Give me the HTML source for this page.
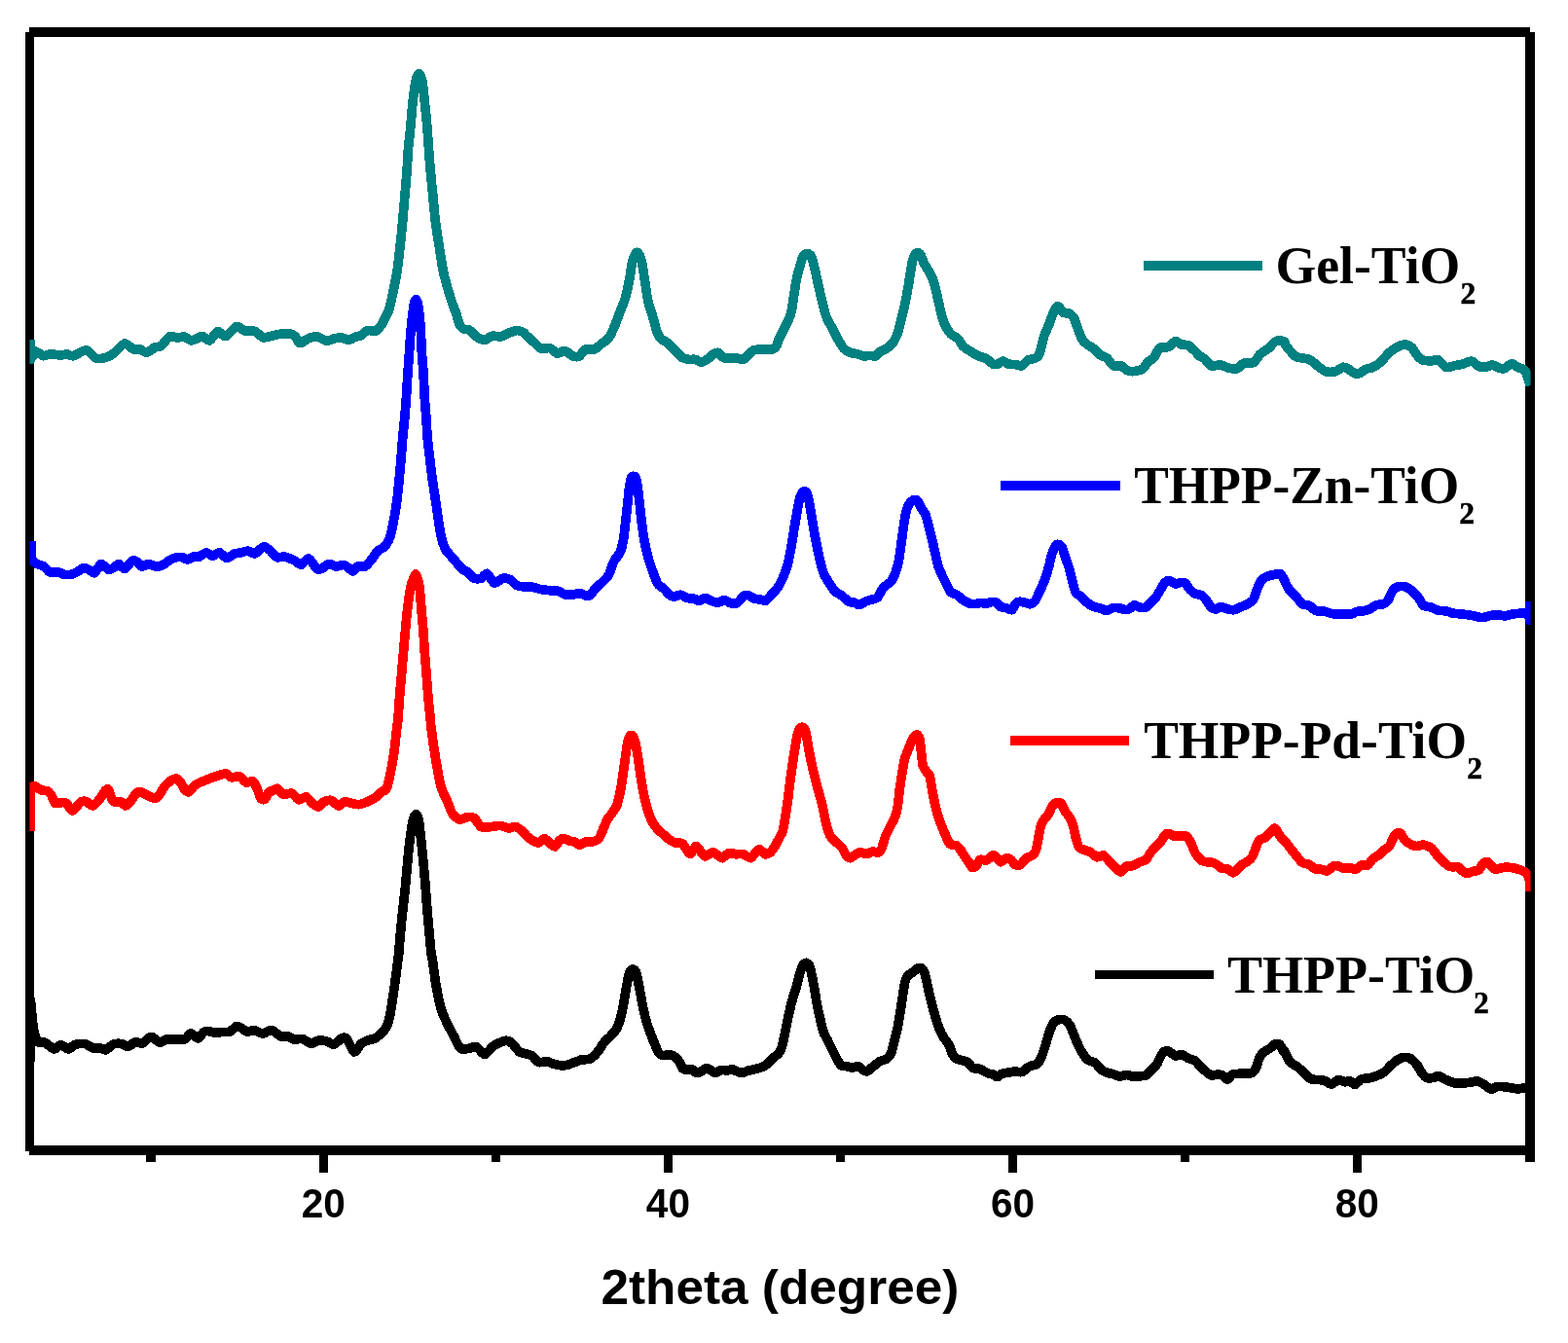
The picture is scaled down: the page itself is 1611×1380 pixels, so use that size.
<!DOCTYPE html>
<html lang="en"><head><meta charset="utf-8"><title>XRD patterns</title>
<style>
html,body{margin:0;padding:0;background:#fff;}
body{width:1611px;height:1380px;overflow:hidden;}
svg{display:block;}
.tick{font-family:"Liberation Sans",Arial,Helvetica,sans-serif;font-weight:bold;font-size:42.5px;text-anchor:middle;fill:#000;}
.title{font-family:"Liberation Sans",Arial,Helvetica,sans-serif;font-weight:bold;font-size:50.4px;text-anchor:middle;fill:#000;}
.leg{font-family:"Liberation Serif","Times New Roman",Times,serif;font-weight:bold;font-size:54px;fill:#000;}
.sub{font-family:"Liberation Serif","Times New Roman",Times,serif;font-weight:bold;font-size:31.6px;fill:#000;stroke:#000;stroke-width:0.5px;}
.curve{fill:none;stroke-width:9.7;stroke-linejoin:round;stroke-linecap:butt;}
</style></head><body>
<svg width="1611" height="1380" viewBox="0 0 1611 1380">
<rect x="0" y="0" width="1611" height="1380" fill="#ffffff"/>
<defs><clipPath id="plot"><rect x="30.4" y="33" width="1542.2" height="1149"/></clipPath></defs>
<g fill="#000" shape-rendering="crispEdges">
<rect x="30" y="28" width="1542" height="10"/>
<rect x="26" y="33" width="9" height="1150"/>
<rect x="30" y="1177" width="1546" height="10"/>
<rect x="1567" y="33" width="9.5" height="1161"/>
<rect x="327.9" y="1186" width="9" height="18.6"/>
<rect x="682" y="1186" width="9" height="18.6"/>
<rect x="1036.2" y="1186" width="9" height="18.6"/>
<rect x="1389.8" y="1186" width="9" height="18.6"/>
<rect x="150" y="1186" width="10" height="8"/>
<rect x="505" y="1186" width="9" height="8"/>
<rect x="859" y="1186" width="9" height="8"/>
<rect x="1213" y="1186" width="9" height="8"/>
</g>
<g clip-path="url(#plot)" shape-rendering="crispEdges">
<path class="curve" stroke="#000000" d="M31.1 1090.6 L31.4 1027.7 L34.2 1057 C34.7 1058.6 37.0 1068.7 38.4 1070.4 C39.8 1072.1 44.4 1070.7 46 1071.3 C47.6 1071.9 50.6 1074.7 51.8 1075.5 C53.0 1076.3 54.7 1078.2 56 1078 C57.3 1077.8 61.0 1073.8 62.7 1073.8 C64.4 1073.8 68.6 1078.0 70.3 1078 C72.0 1078.0 75.0 1074.2 77 1073.5 C79.0 1072.8 84.8 1072.1 87 1072.5 C89.2 1072.9 93.4 1076.2 95.4 1076.8 C97.4 1077.4 102.2 1077.0 103.8 1077.2 C105.4 1077.4 107.3 1079.3 108.8 1078.8 C110.3 1078.3 114.5 1073.7 116.4 1073 C118.3 1072.3 122.9 1072.3 124.7 1072.6 C126.5 1072.9 129.8 1075.7 131.5 1075.5 C133.2 1075.3 137.2 1071.2 139 1070.8 C140.8 1070.4 144.9 1072.6 146.5 1072.1 C148.1 1071.6 151.2 1067.6 152.4 1066.8 C153.6 1066.0 155.2 1065.3 156.6 1065.8 C158.0 1066.3 162.4 1071.0 164.1 1071.3 C165.8 1071.6 168.8 1068.3 170.8 1067.9 C172.8 1067.5 178.6 1067.9 180.9 1067.9 C183.2 1067.9 188.3 1068.6 190.1 1067.9 C191.9 1067.2 194.4 1061.8 196 1061.7 C197.6 1061.6 201.9 1067.3 203.5 1067.1 C205.1 1066.9 208.2 1061.3 209.4 1060.4 C210.6 1059.5 212.2 1059.5 213.6 1059.6 C215.0 1059.7 219.3 1061.1 221.1 1061.2 C222.9 1061.3 226.9 1060.5 228.7 1060.4 C230.5 1060.3 234.5 1060.8 236.2 1060.1 C237.9 1059.4 241.5 1055.0 242.9 1054.5 C244.3 1054.0 246.6 1055.5 247.9 1056.2 C249.2 1056.9 252.2 1059.8 253.8 1060.1 C255.4 1060.4 259.4 1058.5 261.3 1058.7 C263.2 1058.9 267.9 1062.1 269.7 1062.1 C271.5 1062.1 275.2 1059.5 276.4 1059.1 C277.6 1058.7 278.5 1058.1 280 1058.8 C281.5 1059.5 286.7 1064.3 288.6 1065 C290.5 1065.7 294.4 1064.6 296 1065 C297.6 1065.4 300.4 1067.9 302.2 1068.2 C304.0 1068.5 308.7 1067.0 310.8 1067.5 C312.9 1068.0 317.5 1072.2 319.4 1072.4 C321.3 1072.6 324.9 1069.5 326.8 1069.2 C328.7 1068.9 333.5 1069.4 335.4 1069.9 C337.3 1070.4 340.9 1073.5 342.8 1073.1 C344.7 1072.7 349.8 1067.4 351.4 1066.7 C353.0 1066.0 354.9 1065.8 356.4 1067.5 C357.9 1069.2 362.0 1080.4 363.8 1081 C365.6 1081.6 369.4 1073.9 371.2 1072.4 C373.0 1070.9 376.8 1069.4 378.6 1068.7 C380.4 1068.0 384.0 1067.9 385.9 1066.7 C387.8 1065.5 393.1 1060.6 394.6 1058.8 C396.1 1057.0 397.9 1053.8 398.7 1051.3 C399.5 1048.8 400.8 1043.0 401.6 1038.3 C402.4 1033.6 404.6 1018.5 405.5 1012.2 C406.4 1005.9 408.4 990.0 408.9 986.1 C409.4 982.2 409.4 983.2 409.7 980 C410.0 976.8 410.9 964.4 411.4 959.1 C411.9 953.8 413.1 941.5 413.7 935.9 C414.3 930.3 415.7 918.4 416.3 912.8 C416.9 907.2 417.9 895.2 418.4 889.6 C418.9 884.0 420.0 872.0 420.7 866.4 C421.4 860.8 423.4 846.8 424.2 843.2 C425.0 839.6 426.8 836.6 427.5 836.6 C428.2 836.6 429.6 839.6 430.3 843.2 C431.0 846.8 432.4 860.8 433 866.4 C433.6 872.0 434.8 884.0 435.3 889.6 C435.8 895.2 436.9 907.2 437.3 912.8 C437.7 918.4 438.5 930.3 439 935.9 C439.5 941.5 440.6 953.8 441.1 959.1 C441.6 964.4 442.7 976.8 443.1 980 C443.5 983.2 443.7 982.2 444.3 986.1 C444.9 990.0 446.9 1005.9 448 1012.2 C449.1 1018.5 452.3 1033.6 453.7 1038.3 C455.1 1043.0 457.8 1048.2 459.3 1051.3 C460.8 1054.4 464.6 1061.6 466 1064.3 C467.4 1067.0 469.6 1071.8 470.6 1073.5 C471.6 1075.2 473.2 1077.6 474.6 1078.1 C476.0 1078.6 480.2 1077.6 482 1077.3 C483.8 1077.0 487.5 1074.9 489.4 1075.6 C491.3 1076.3 495.9 1083.6 498 1083.5 C500.1 1083.4 504.8 1076.4 506.7 1074.9 C508.6 1073.4 512.5 1071.9 514.1 1071.2 C515.7 1070.5 518.7 1069.1 520.2 1069.2 C521.7 1069.3 524.8 1071.0 526.4 1072.4 C528.0 1073.8 532.2 1079.8 533.8 1081 C535.4 1082.2 538.5 1082.2 540 1082.7 C541.5 1083.2 545.1 1083.8 546.7 1084.9 C548.3 1086.0 551.6 1090.9 553.4 1091.6 C555.2 1092.3 560.0 1090.5 561.8 1090.7 C563.6 1090.9 566.7 1092.7 568.5 1093.2 C570.3 1093.7 575.1 1094.8 576.9 1094.9 C578.7 1095.0 582.0 1094.5 583.6 1094.1 C585.2 1093.7 588.7 1092.2 590.3 1091.6 C591.9 1091.0 595.2 1089.5 597 1089.1 C598.8 1088.7 603.8 1088.7 605.4 1088.2 C607.0 1087.7 609.2 1086.0 610.4 1084.9 C611.6 1083.8 614.2 1080.6 615.4 1079 C616.6 1077.4 619.0 1073.2 620.4 1071.5 C621.8 1069.8 625.7 1066.3 627.2 1064.7 C628.7 1063.1 631.8 1060.1 633 1058 C634.2 1055.9 636.3 1050.3 637.2 1047.2 C638.1 1044.1 639.9 1035.7 640.6 1032.1 C641.3 1028.5 642.5 1020.4 643.1 1017 C643.7 1013.6 645.1 1005.9 645.6 1003.6 C646.1 1001.3 647.0 998.6 647.6 997.7 C648.2 996.8 649.6 995.9 650.3 996 C651.0 996.1 652.5 996.9 653.1 998.2 C653.7 999.5 654.7 1004.0 655.3 1006.9 C655.9 1009.8 657.5 1018.4 658.2 1022 C658.9 1025.6 660.2 1033.5 661 1037.1 C661.8 1040.7 663.9 1049.0 664.9 1052.2 C665.9 1055.4 668.1 1061.3 669.1 1063.9 C670.1 1066.5 672.3 1071.9 673.2 1074 C674.1 1076.1 675.7 1080.3 676.6 1081.5 C677.5 1082.7 679.3 1084.1 680.8 1084.4 C682.3 1084.7 687.6 1083.7 689.2 1084 C690.8 1084.3 693.1 1085.6 694.2 1086.5 C695.3 1087.4 697.5 1090.2 698.4 1091.6 C699.3 1093.0 700.8 1097.4 701.7 1098.3 C702.6 1099.2 704.8 1099.0 705.9 1099.1 C707.0 1099.2 709.8 1098.4 710.9 1098.8 C712.0 1099.2 714.0 1102.2 715.1 1102.5 C716.2 1102.8 718.9 1101.7 720.2 1101.1 C721.5 1100.5 724.7 1097.5 726 1097.4 C727.3 1097.3 730.0 1099.8 731.1 1100.4 C732.2 1101.0 734.1 1102.6 735.3 1102.5 C736.5 1102.4 739.7 1099.7 741.1 1099.4 C742.5 1099.1 745.7 1100.0 747 1099.9 C748.3 1099.8 750.8 1098.7 752 1098.8 C753.2 1098.9 755.8 1100.4 757 1100.8 C758.2 1101.2 760.8 1102.5 762.1 1102.5 C763.4 1102.5 766.4 1100.8 767.9 1100.4 C769.4 1100.0 773.0 1099.2 774.6 1098.8 C776.2 1098.4 779.8 1097.7 781.3 1097.1 C782.8 1096.5 785.8 1095.2 787.2 1094.1 C788.6 1093.0 791.6 1089.6 793.1 1088.2 C794.6 1086.8 798.8 1083.8 800 1082.3 C801.2 1080.8 802.6 1078.2 803.4 1075.6 C804.2 1073.0 805.9 1064.4 806.7 1060.6 C807.5 1056.8 809.2 1047.8 810.1 1043.8 C811.0 1039.8 813.2 1030.6 814.2 1027 C815.2 1023.4 817.5 1016.8 818.4 1013.6 C819.3 1010.4 821.0 1002.8 821.8 1000.2 C822.6 997.6 824.0 993.1 824.8 991.8 C825.6 990.5 827.4 989.2 828.2 989.3 C829.0 989.4 831.1 991.0 831.8 992.7 C832.5 994.4 833.8 1000.7 834.4 1003.6 C835.0 1006.5 836.3 1013.6 836.9 1017 C837.5 1020.4 838.7 1028.5 839.4 1032.1 C840.1 1035.7 841.9 1043.8 842.7 1047.2 C843.5 1050.6 845.2 1058.0 846.1 1060.6 C847.0 1063.2 849.2 1066.7 850.3 1068.9 C851.4 1071.1 854.1 1076.6 855.3 1079 C856.5 1081.4 859.2 1087.2 860.3 1089.1 C861.4 1091.0 863.3 1094.1 864.5 1094.9 C865.7 1095.7 869.1 1095.5 870.4 1095.8 C871.7 1096.1 874.0 1097.1 875.4 1097.1 C876.8 1097.1 880.7 1095.5 882.1 1095.8 C883.5 1096.1 886.1 1099.3 887.2 1099.9 C888.3 1100.5 890.1 1101.3 891.3 1100.8 C892.5 1100.3 895.7 1097.0 897.2 1095.8 C898.7 1094.6 902.3 1091.6 903.9 1090.7 C905.5 1089.8 909.2 1089.2 910.6 1088.2 C912.0 1087.2 914.6 1084.6 915.6 1082.3 C916.6 1080.0 918.2 1072.1 919 1068.9 C919.8 1065.7 921.6 1058.9 922.3 1055.5 C923.0 1052.1 924.3 1044.2 924.9 1040.4 C925.5 1036.6 926.8 1027.5 927.4 1023.7 C928.0 1019.9 929.2 1011.2 929.9 1008.6 C930.6 1006.0 932.3 1003.0 933.2 1001.9 C934.1 1000.8 936.3 1000.2 937.4 999.4 C938.5 998.6 941.4 995.7 942.5 995.2 C943.6 994.7 945.7 994.3 946.6 994.9 C947.5 995.5 949.3 998.4 950 1000.2 C950.7 1002.0 951.9 1007.7 952.5 1010.3 C953.1 1012.9 954.3 1019.0 955 1022 C955.7 1025.0 957.6 1032.4 958.4 1035.4 C959.2 1038.4 960.9 1044.6 961.7 1047.2 C962.5 1049.8 964.2 1055.0 965.1 1057.2 C966.0 1059.4 968.1 1063.6 969.3 1065.6 C970.5 1067.6 974.0 1071.9 975.1 1074 C976.2 1076.1 977.6 1081.5 978.5 1083.2 C979.4 1084.9 981.6 1087.5 982.7 1088.2 C983.8 1088.9 986.3 1089.0 987.7 1089.4 C989.1 1089.8 993.0 1090.6 994.4 1091.6 C995.8 1092.6 998.0 1096.6 999.4 1097.4 C1000.8 1098.2 1004.7 1097.9 1006.1 1098.3 C1007.5 1098.7 1010.0 1100.2 1011.2 1100.8 C1012.4 1101.4 1015.1 1102.9 1016.2 1103.3 C1017.3 1103.7 1019.4 1103.7 1020.4 1104.1 C1021.4 1104.5 1023.5 1106.7 1024.6 1106.6 C1025.7 1106.5 1028.2 1103.8 1029.6 1103.3 C1031.0 1102.8 1034.7 1102.4 1036.3 1102.1 C1037.9 1101.8 1041.4 1101.2 1043 1101.1 C1044.6 1101.0 1048.1 1102.1 1049.7 1101.6 C1051.3 1101.1 1055.2 1097.4 1056.4 1096.6 C1057.6 1095.8 1058.9 1095.3 1060 1094.9 C1061.1 1094.5 1064.7 1094.3 1065.9 1093.2 C1067.1 1092.1 1069.1 1088.0 1070.1 1085.7 C1071.1 1083.4 1073.3 1076.8 1074.2 1074 C1075.1 1071.2 1076.7 1064.8 1077.6 1062.2 C1078.5 1059.6 1080.7 1053.9 1081.8 1052.2 C1082.9 1050.5 1085.4 1048.5 1086.8 1048 C1088.2 1047.5 1092.0 1047.3 1093.5 1048 C1095.0 1048.7 1098.2 1052.0 1099.4 1053.9 C1100.6 1055.8 1102.6 1061.5 1103.6 1063.9 C1104.6 1066.3 1106.7 1071.7 1107.8 1074 C1108.9 1076.3 1111.6 1081.4 1112.8 1083.2 C1114.0 1085.0 1116.3 1088.0 1117.8 1089.1 C1119.3 1090.2 1123.8 1091.2 1125.4 1092.4 C1127.0 1093.6 1129.8 1097.9 1131.2 1099.1 C1132.6 1100.3 1135.6 1101.5 1137.1 1102.1 C1138.6 1102.7 1142.2 1103.3 1143.8 1103.8 C1145.4 1104.3 1148.9 1106.0 1150.5 1106.1 C1152.1 1106.2 1155.6 1104.5 1157.2 1104.5 C1158.8 1104.5 1162.3 1105.9 1163.9 1106.1 C1165.5 1106.3 1169.0 1105.9 1170.6 1105.8 C1172.2 1105.7 1175.9 1105.7 1177.3 1105 C1178.7 1104.3 1181.0 1101.2 1182.3 1099.9 C1183.6 1098.6 1187.0 1095.8 1188.2 1094.1 C1189.4 1092.4 1191.5 1087.3 1192.4 1085.7 C1193.3 1084.1 1194.8 1081.3 1195.8 1080.7 C1196.8 1080.1 1199.4 1079.8 1200.8 1080.3 C1202.2 1080.8 1205.9 1084.5 1207.5 1084.9 C1209.1 1085.3 1212.6 1083.4 1214.2 1083.7 C1215.8 1084.0 1219.3 1086.7 1220.9 1087.4 C1222.5 1088.1 1226.2 1089.0 1227.6 1089.9 C1229.0 1090.8 1231.4 1093.7 1232.6 1094.9 C1233.8 1096.1 1236.3 1098.7 1237.7 1099.9 C1239.1 1101.1 1242.8 1104.5 1244.4 1105 C1246.0 1105.5 1249.7 1104.1 1251.1 1104.1 C1252.5 1104.1 1254.9 1104.4 1256.1 1105 C1257.3 1105.6 1259.9 1109.3 1261.1 1109.2 C1262.3 1109.1 1264.7 1104.8 1266.1 1104.1 C1267.5 1103.4 1271.2 1103.5 1272.8 1103.3 C1274.4 1103.1 1278.0 1102.9 1279.6 1102.8 C1281.2 1102.7 1285.0 1103.1 1286.3 1102.5 C1287.6 1101.9 1289.5 1099.2 1290.4 1097.4 C1291.3 1095.6 1292.9 1089.3 1293.8 1087.4 C1294.7 1085.5 1296.7 1082.7 1298 1081.5 C1299.3 1080.3 1303.3 1078.3 1304.7 1077.3 C1306.1 1076.3 1308.5 1073.6 1309.7 1073.1 C1310.9 1072.6 1313.6 1072.2 1314.7 1073.1 C1315.8 1074.0 1318.3 1079.8 1318.9 1080.7 C1319.5 1081.6 1319.3 1079.5 1320 1080.7 C1320.7 1081.9 1323.4 1088.8 1325 1090.7 C1326.6 1092.6 1331.6 1095.2 1333.4 1096.6 C1335.2 1098.0 1338.5 1101.0 1340.1 1102.5 C1341.7 1104.0 1345.0 1108.0 1346.8 1108.8 C1348.6 1109.6 1353.4 1109.3 1355.2 1109.5 C1357.0 1109.7 1360.4 1110.2 1361.9 1110.8 C1363.4 1111.4 1366.2 1114.4 1367.8 1114.2 C1369.4 1114.0 1373.6 1109.8 1375.3 1109.5 C1377.0 1109.2 1380.6 1111.5 1382 1111.7 C1383.4 1111.9 1385.8 1110.5 1387 1110.8 C1388.2 1111.1 1390.7 1114.7 1392.1 1114.5 C1393.5 1114.3 1397.0 1109.6 1398.8 1108.8 C1400.6 1108.0 1405.4 1108.2 1407.2 1107.8 C1409.0 1107.4 1412.1 1106.5 1413.9 1105.8 C1415.7 1105.1 1420.4 1102.9 1422.2 1101.6 C1424.0 1100.3 1427.3 1096.4 1428.9 1094.9 C1430.5 1093.4 1434.0 1090.1 1435.6 1089.1 C1437.2 1088.1 1440.7 1086.7 1442.3 1086.5 C1443.9 1086.3 1447.5 1086.8 1449.1 1087.7 C1450.7 1088.6 1454.4 1092.3 1455.8 1094.1 C1457.2 1095.9 1459.6 1100.9 1460.8 1102.5 C1462.0 1104.1 1464.4 1106.9 1465.8 1107.5 C1467.2 1108.1 1471.1 1107.7 1472.5 1107.5 C1473.9 1107.3 1476.1 1105.3 1477.5 1105.5 C1478.9 1105.7 1482.2 1107.9 1484.2 1108.8 C1486.2 1109.7 1491.9 1112.3 1494.3 1112.8 C1496.7 1113.3 1502.4 1112.9 1504.4 1112.8 C1506.4 1112.7 1509.5 1112.4 1511.1 1112.2 C1512.7 1112.0 1516.2 1110.6 1517.8 1110.8 C1519.4 1111.0 1522.8 1113.2 1524.5 1114.2 C1526.2 1115.2 1530.4 1118.9 1532 1119.2 C1533.6 1119.5 1536.4 1117.0 1537.9 1116.7 C1539.4 1116.4 1542.8 1116.6 1544.6 1116.7 C1546.4 1116.8 1551.2 1117.6 1553 1117.9 C1554.8 1118.2 1557.9 1118.9 1559.7 1118.9 C1561.5 1118.9 1566.4 1117.7 1568 1117.5 C1569.6 1117.3 1572.5 1117.5 1573.1 1117.5"/>
<path class="curve" stroke="#ff0000" d="M31.4 853.6 L31.7 808.7 C32.2 808.6 34.7 807.4 35.9 807.8 C37.1 808.2 40.3 811.1 41.8 811.7 C43.3 812.3 47.2 812.2 48.5 812.8 C49.8 813.4 51.7 815.5 52.7 817 C53.7 818.5 55.6 824.5 56.9 825.4 C58.2 826.3 62.2 824.6 63.6 824.6 C65.0 824.6 67.3 824.8 68.6 825.8 C69.9 826.8 72.8 833.2 74.5 833 C76.2 832.8 81.1 825.2 82.8 824.1 C84.5 823.0 87.2 823.2 88.7 823.7 C90.2 824.2 93.7 828.3 95.4 827.9 C97.1 827.5 101.5 822.2 103 820.4 C104.5 818.6 107.0 813.9 108 812.8 C109.0 811.7 110.4 810.1 111.3 811.2 C112.2 812.3 114.5 820.5 115.5 822.1 C116.5 823.7 118.7 824.4 119.7 824.6 C120.7 824.8 122.8 823.3 123.9 823.7 C125.0 824.1 127.7 827.9 128.9 827.9 C130.1 827.9 132.8 825.1 134 823.7 C135.2 822.3 137.8 817.4 139 816.2 C140.2 815.0 142.6 813.6 144 813.7 C145.4 813.8 148.9 816.2 150.7 817 C152.5 817.8 157.5 820.5 159.1 820.4 C160.7 820.3 162.9 817.7 164.1 816.2 C165.3 814.7 167.8 809.5 169.2 807.8 C170.6 806.1 174.5 802.9 175.9 802 C177.3 801.1 179.7 799.6 180.9 799.9 C182.1 800.2 184.8 803.0 185.9 804.5 C187.0 806.0 189.1 810.9 190.1 812 C191.1 813.1 193.2 814.2 194.3 813.7 C195.4 813.2 198.1 808.9 199.3 807.8 C200.5 806.7 202.8 805.3 204.4 804.5 C206.0 803.7 210.9 801.8 212.7 801.1 C214.5 800.4 218.0 799.1 219.4 798.6 C220.8 798.1 223.0 797.3 224.5 796.9 C226.0 796.5 230.4 794.7 232 794.9 C233.6 795.1 236.2 798.6 237.9 798.9 C239.6 799.2 244.5 797.2 246.3 797.8 C248.1 798.4 251.4 803.4 253 804 C254.6 804.6 258.4 802.1 259.7 802.8 C261.0 803.5 262.9 807.4 263.9 809.5 C264.9 811.6 267.0 819.0 268 820.4 C269.0 821.8 271.2 822.0 272.2 821.2 C273.2 820.4 275.5 814.7 276.4 813.7 C277.3 812.7 279.0 813.1 280 812.7 C281.0 812.3 283.6 809.8 284.9 810.2 C286.2 810.6 289.3 815.8 291.1 816.4 C292.9 817.0 297.8 814.5 299.7 815.1 C301.6 815.7 305.3 821.4 307.1 821.8 C308.9 822.2 312.9 818.4 314.5 818.8 C316.1 819.2 319.2 823.8 320.7 825 C322.2 826.2 325.3 829.3 326.8 829.2 C328.3 829.1 331.4 824.6 333 823.8 C334.6 823.0 338.6 822.0 340.4 822.5 C342.2 823.0 346.2 828.0 347.8 828.2 C349.4 828.4 352.4 824.2 353.9 823.8 C355.4 823.4 358.3 824.7 360.1 825 C361.9 825.3 366.6 826.8 368.7 826.7 C370.8 826.6 375.2 824.7 377.3 823.8 C379.4 822.9 384.0 820.6 385.9 819.3 C387.8 818.0 392.0 813.7 393.3 812.7 C394.6 811.7 395.8 813.0 396.7 811.3 C397.6 809.6 399.4 803.0 400.4 798.3 C401.4 793.6 404.1 778.5 405 772.2 C405.9 765.9 407.5 750.0 408 746.1 C408.5 742.2 408.6 743.2 408.9 740 C409.2 736.8 409.9 724.4 410.3 719.1 C410.7 713.8 411.8 701.5 412.3 695.9 C412.8 690.3 413.8 678.4 414.3 672.8 C414.8 667.2 415.8 655.2 416.3 649.6 C416.8 644.0 417.9 632.0 418.6 626.4 C419.3 620.8 420.9 607.6 421.9 603.2 C422.9 598.8 426.2 589.7 427.3 589.7 C428.4 589.7 430.2 598.8 430.9 603.2 C431.6 607.6 432.5 620.8 433 626.4 C433.5 632.0 434.6 644.0 435 649.6 C435.4 655.2 436.1 667.2 436.5 672.8 C436.9 678.4 438.0 690.3 438.4 695.9 C438.8 701.5 439.7 713.8 440.2 719.1 C440.7 724.4 442.0 736.8 442.3 740 C442.6 743.2 442.3 742.2 442.8 746.1 C443.3 750.0 445.4 765.9 446.4 772.2 C447.4 778.5 450.0 793.6 450.9 798.3 C451.8 803.0 453.0 808.2 454.1 811.3 C455.2 814.4 458.7 821.3 460 824.3 C461.3 827.3 463.3 834.0 464.8 836.1 C466.3 838.2 470.4 841.8 472.2 842.2 C474.0 842.6 477.8 840.0 479.6 839.8 C481.4 839.6 485.2 839.3 487 840.5 C488.8 841.7 492.2 848.5 494.3 849.6 C496.4 850.7 501.8 849.7 504.2 849.6 C506.6 849.5 511.9 848.2 514.1 848.4 C516.3 848.6 520.8 850.8 522.7 850.9 C524.6 851.0 528.2 849.0 530.1 849.6 C532.0 850.2 537.5 854.8 538.7 855.8 C539.9 856.8 539.0 857.3 540 858.2 C541.0 859.1 545.1 862.3 546.7 863.2 C548.3 864.1 551.9 866.3 553.4 866.1 C554.9 865.9 557.9 861.5 559.3 861.6 C560.7 861.7 563.8 865.6 565.1 866.6 C566.4 867.6 569.0 870.3 570.2 869.9 C571.4 869.5 574.1 864.2 575.2 863.2 C576.3 862.2 578.2 861.5 579.4 861.6 C580.6 861.7 584.0 863.7 585.3 864.1 C586.6 864.5 589.1 864.4 590.3 864.9 C591.5 865.4 593.9 868.3 595.3 868.3 C596.7 868.3 600.4 865.3 602 864.9 C603.6 864.5 607.1 865.3 608.7 864.9 C610.3 864.5 614.1 863.1 615.4 861.6 C616.7 860.1 618.6 854.6 619.6 852.3 C620.6 850.0 622.7 844.3 623.8 842.3 C624.9 840.3 627.6 837.4 628.8 835.6 C630.0 833.8 632.9 829.8 633.9 827.2 C634.9 824.6 636.5 817.2 637.2 813.8 C637.9 810.4 639.1 802.7 639.7 798.7 C640.3 794.7 641.6 784.5 642.2 780.3 C642.8 776.1 644.1 766.3 644.7 763.5 C645.3 760.7 646.4 757.8 646.9 756.8 C647.4 755.8 648.4 755.4 648.9 755.5 C649.4 755.6 650.5 756.3 651.1 757.7 C651.7 759.1 653.0 764.0 653.6 766.9 C654.2 769.8 655.4 778.0 656 782 C656.6 786.0 658.0 796.0 658.7 800.4 C659.4 804.8 661.2 815.0 662 818.8 C662.8 822.6 664.5 829.2 665.4 832.2 C666.3 835.2 668.7 841.6 669.9 844 C671.1 846.4 674.3 850.6 675.8 852.3 C677.3 854.0 681.0 856.9 682.5 858.2 C684.0 859.5 686.9 862.3 688.3 863.2 C689.7 864.1 692.7 865.7 694.2 866.1 C695.7 866.5 699.6 865.8 700.9 866.6 C702.2 867.4 704.1 871.2 705.1 872.5 C706.1 873.8 708.1 877.9 709.3 877.5 C710.5 877.1 713.9 869.8 715.1 869.4 C716.3 869.0 718.2 872.8 719.3 874.1 C720.4 875.4 722.9 879.8 724.4 880 C725.9 880.2 730.4 876.0 731.9 875.8 C733.4 875.6 735.7 877.6 736.9 878.3 C738.1 879.0 740.6 881.9 742 881.7 C743.4 881.5 747.0 877.1 748.7 876.6 C750.4 876.1 754.5 877.7 756.2 877.8 C757.9 877.9 761.1 877.0 762.9 877.5 C764.7 878.0 769.7 881.9 771.3 881.7 C772.9 881.5 775.2 876.9 776.3 875.8 C777.4 874.7 779.3 872.6 780.5 872.8 C781.7 873.0 785.1 877.4 786.4 877.8 C787.7 878.2 790.2 876.8 791.4 875.8 C792.6 874.8 795.4 870.7 796.4 869.1 C797.4 867.5 799.1 864.2 800 862.4 C800.9 860.6 803.4 856.6 804.2 854 C805.0 851.4 806.1 844.2 806.7 840.6 C807.3 837.0 808.6 828.3 809.2 823.9 C809.8 819.5 811.1 808.3 811.7 803.7 C812.3 799.1 813.6 789.5 814.2 785.3 C814.8 781.1 816.2 772.1 816.8 768.5 C817.4 764.9 818.7 757.5 819.3 755.1 C819.9 752.7 821.2 749.3 821.8 748.4 C822.4 747.5 823.7 747.2 824.3 747.3 C824.9 747.4 826.3 748.2 826.8 749.3 C827.3 750.4 828.3 754.3 828.8 756.8 C829.3 759.3 830.3 766.6 831 770.2 C831.7 773.8 833.6 783.4 834.4 787 C835.2 790.6 836.9 797.2 837.7 800.4 C838.5 803.6 840.3 810.8 841.1 813.8 C841.9 816.8 843.7 822.7 844.4 825.5 C845.1 828.3 846.3 834.5 846.9 837.3 C847.5 840.1 848.6 846.3 849.4 849 C850.2 851.7 852.5 858.0 853.6 859.9 C854.7 861.8 857.3 863.5 858.7 864.9 C860.1 866.3 864.1 869.9 865.4 871.6 C866.7 873.3 868.6 878.0 869.6 879.2 C870.6 880.4 872.6 881.8 873.7 881.7 C874.8 881.6 877.6 879.0 878.8 878.3 C880.0 877.6 882.4 875.9 883.8 875.8 C885.2 875.7 889.0 877.6 890.5 877.5 C892.0 877.4 895.0 875.2 896.4 875 C897.8 874.8 901.1 876.4 902.2 876.1 C903.3 875.8 904.7 874.5 905.6 872.5 C906.5 870.5 908.7 861.9 909.8 859.1 C910.9 856.3 913.6 851.4 914.8 849 C916.0 846.6 918.9 841.3 919.8 838.9 C920.7 836.5 921.7 832.3 922.3 828.9 C922.9 825.5 923.8 814.6 924.4 810.4 C925.0 806.2 926.4 797.3 927 793.7 C927.6 790.1 928.8 782.9 929.4 780.3 C930.0 777.7 931.6 773.9 932.4 771.9 C933.2 769.9 935.0 765.3 935.8 763.5 C936.6 761.7 938.3 757.8 939.1 756.8 C939.9 755.8 941.8 754.7 942.5 755.1 C943.2 755.5 944.5 758.0 945 760.2 C945.5 762.4 946.2 770.4 946.6 773.6 C947.0 776.8 947.7 784.7 948.3 787 C948.9 789.3 950.9 791.6 951.7 792.8 C952.5 794.0 954.3 794.9 955 797 C955.7 799.1 956.9 807.2 957.5 810.4 C958.1 813.6 959.4 820.7 960.1 823.9 C960.8 827.1 962.5 834.3 963.4 837.3 C964.3 840.3 966.6 846.4 967.6 849 C968.6 851.6 970.8 856.9 971.8 859.1 C972.8 861.3 974.7 866.2 976 867.4 C977.3 868.6 981.4 868.1 982.7 868.8 C984.0 869.5 985.9 872.0 986.9 873.3 C987.9 874.6 990.1 878.5 991.1 880 C992.1 881.5 994.4 884.6 995.3 885.9 C996.2 887.2 997.7 890.7 998.6 891.2 C999.5 891.7 1001.8 891.0 1002.8 890.1 C1003.8 889.2 1005.7 884.1 1007 883.4 C1008.3 882.7 1012.2 884.4 1013.7 883.9 C1015.2 883.4 1018.5 879.7 1019.6 879.2 C1020.7 878.7 1021.9 879.2 1022.9 880 C1023.9 880.8 1026.7 885.6 1027.9 885.9 C1029.1 886.2 1031.8 882.6 1033 882.2 C1034.2 881.8 1036.8 882.1 1038 882.8 C1039.2 883.5 1041.8 887.7 1043 888.4 C1044.2 889.1 1046.6 889.7 1048 888.9 C1049.4 888.1 1053.3 882.9 1054.7 881.7 C1056.1 880.5 1058.9 880.1 1060 879.2 C1061.1 878.3 1063.4 876.1 1064.2 874.1 C1065.0 872.1 1066.1 865.4 1066.7 862.4 C1067.3 859.4 1068.5 851.4 1069.2 849 C1069.9 846.6 1071.7 843.7 1072.6 842.3 C1073.5 840.9 1075.8 838.9 1076.8 837.3 C1077.8 835.7 1080.0 830.4 1080.9 828.9 C1081.8 827.4 1083.2 825.6 1084.3 825.2 C1085.4 824.8 1089.0 824.5 1090.2 825.5 C1091.4 826.5 1093.3 832.1 1094.4 833.9 C1095.5 835.7 1098.4 838.8 1099.4 840.6 C1100.4 842.4 1102.0 846.6 1102.7 849 C1103.4 851.4 1104.6 858.1 1105.3 860.7 C1106.0 863.3 1107.6 869.3 1108.6 870.8 C1109.6 872.3 1112.3 872.8 1113.6 873.3 C1114.9 873.8 1117.9 874.1 1119.5 875 C1121.1 875.9 1125.3 880.3 1127 880.8 C1128.7 881.3 1132.2 878.3 1133.7 878.8 C1135.2 879.3 1138.2 883.5 1139.6 885 C1141.0 886.5 1144.1 889.6 1145.5 890.9 C1146.9 892.2 1149.9 896.0 1151.3 895.9 C1152.7 895.8 1155.7 890.9 1157.2 890.1 C1158.7 889.3 1162.3 890.1 1163.9 889.6 C1165.5 889.1 1169.0 886.6 1170.6 885.9 C1172.2 885.2 1175.9 884.6 1177.3 883.4 C1178.7 882.2 1181.1 877.4 1182.3 875.8 C1183.5 874.2 1186.1 871.3 1187.4 869.9 C1188.7 868.5 1192.1 865.5 1193.2 864.1 C1194.3 862.7 1195.7 859.1 1196.6 858.2 C1197.5 857.3 1199.7 856.4 1200.8 856.5 C1201.9 856.6 1204.4 858.8 1205.8 859.1 C1207.2 859.4 1210.9 859.1 1212.5 859.1 C1214.1 859.1 1217.9 858.3 1219.2 859.1 C1220.5 859.9 1222.4 863.8 1223.4 865.8 C1224.4 867.8 1226.5 873.8 1227.6 875.8 C1228.7 877.8 1231.4 881.3 1232.6 882.5 C1233.8 883.7 1236.3 885.1 1237.7 885.5 C1239.1 885.9 1242.9 885.6 1244.4 885.9 C1245.9 886.2 1248.9 887.6 1250.2 888.4 C1251.5 889.2 1254.0 891.7 1255.3 892.2 C1256.6 892.7 1259.7 892.3 1261.1 892.9 C1262.5 893.5 1265.7 896.8 1267 896.8 C1268.3 896.8 1270.9 893.6 1272 892.6 C1273.1 891.6 1275.1 889.3 1276.2 888.4 C1277.3 887.5 1280.0 886.4 1281.2 885.5 C1282.4 884.6 1285.2 882.6 1286.3 880.8 C1287.4 879.0 1289.5 872.9 1290.4 870.8 C1291.3 868.7 1292.7 864.4 1293.8 863.2 C1294.9 862.0 1298.3 861.7 1299.7 860.7 C1301.1 859.7 1304.3 856.1 1305.5 854.9 C1306.7 853.7 1308.8 850.9 1309.7 851 C1310.6 851.1 1312.2 854.3 1313.1 855.7 C1314.0 857.1 1316.5 861.4 1317.3 862.4 C1318.1 863.4 1319.1 863.0 1320 864 C1320.9 865.0 1323.6 868.9 1325 870.7 C1326.4 872.5 1330.1 877.2 1331.7 879.1 C1333.3 881.0 1336.8 885.5 1338.4 886.6 C1340.0 887.7 1343.6 887.6 1345.1 888.3 C1346.6 889.0 1349.4 892.2 1351 892.8 C1352.6 893.4 1357.0 893.1 1358.5 893.4 C1360.0 893.7 1362.2 895.4 1363.6 895 C1365.0 894.6 1368.9 890.6 1370.3 890 C1371.7 889.4 1374.1 889.7 1375.3 890 C1376.5 890.3 1378.9 892.0 1380.3 892.2 C1381.7 892.4 1385.5 891.6 1387 891.7 C1388.5 891.8 1391.5 893.7 1392.9 893.4 C1394.3 893.1 1397.3 889.4 1398.8 888.8 C1400.3 888.2 1404.1 889.6 1405.5 888.8 C1406.9 888.0 1409.1 883.8 1410.5 882.5 C1411.9 881.2 1415.8 879.4 1417.2 878.3 C1418.6 877.2 1421.0 874.2 1422.2 873.2 C1423.4 872.2 1426.2 871.4 1427.3 869.9 C1428.4 868.4 1430.6 862.3 1431.5 860.7 C1432.4 859.1 1433.9 857.0 1434.8 856.5 C1435.7 856.0 1437.9 855.6 1439 856.5 C1440.1 857.4 1442.6 862.6 1444 864 C1445.4 865.4 1449.3 867.6 1450.7 868.2 C1452.1 868.8 1454.4 869.4 1455.8 869.4 C1457.2 869.4 1460.7 867.9 1462.5 868.2 C1464.3 868.5 1469.1 870.3 1470.8 871.6 C1472.5 872.9 1475.3 877.5 1476.7 879.1 C1478.1 880.7 1481.1 883.6 1482.6 885 C1484.1 886.4 1487.5 889.8 1489.3 890.5 C1491.1 891.2 1496.1 890.3 1497.7 890.8 C1499.3 891.3 1501.5 894.2 1502.7 895 C1503.9 895.8 1506.5 897.4 1507.7 897.5 C1508.9 897.6 1511.3 895.9 1512.7 895.5 C1514.1 895.1 1518.1 895.2 1519.4 894.2 C1520.7 893.2 1522.6 888.5 1523.6 887.5 C1524.6 886.5 1526.8 885.3 1527.8 885.5 C1528.8 885.7 1531.0 888.3 1532 889.2 C1533.0 890.1 1534.9 893.1 1536.2 893.4 C1537.5 893.7 1541.3 892.0 1542.9 891.7 C1544.5 891.4 1548.0 891.1 1549.6 891.2 C1551.2 891.3 1554.7 891.8 1556.3 892.2 C1557.9 892.6 1561.5 893.6 1563 894.2 C1564.5 894.8 1567.3 895.9 1568.4 897.2 C1569.5 898.5 1571.5 904.2 1571.9 905.1 L1571.9 916"/>
<path class="curve" stroke="#0000ff" d="M31.7 556.1 L31.7 575.4 C32.5 575.9 36.8 578.8 38.4 579.6 C40.0 580.4 43.6 581.1 45.1 582.1 C46.6 583.1 49.2 587.2 51 587.9 C52.8 588.6 58.5 587.6 60.2 587.9 C61.9 588.2 63.7 589.8 65.3 590.1 C66.9 590.4 71.8 590.5 73.6 590.1 C75.4 589.7 78.8 587.9 80.3 587.1 C81.8 586.3 84.8 583.6 86.2 583.4 C87.6 583.2 90.8 585.2 92.1 585.8 C93.4 586.4 95.7 589.5 97.1 588.8 C98.5 588.1 102.1 580.0 103.8 579.6 C105.5 579.2 109.8 584.6 111.3 585.1 C112.8 585.6 115.1 584.4 116.4 583.7 C117.7 583.0 120.8 579.5 122.2 579.6 C123.6 579.7 126.5 585.0 128.1 584.6 C129.7 584.2 134.1 577.4 135.6 576.5 C137.1 575.6 139.5 576.3 140.7 577 C141.9 577.7 144.3 581.8 145.7 582.1 C147.1 582.4 150.6 579.6 152.4 579.6 C154.2 579.6 159.0 582.0 160.8 582.1 C162.6 582.2 165.9 581.2 167.5 580.4 C169.1 579.6 172.6 576.6 174.2 575.7 C175.8 574.8 179.3 573.1 180.9 572.8 C182.5 572.5 186.2 572.5 187.6 572.8 C189.0 573.1 191.2 575.1 192.6 575 C194.0 574.9 197.9 572.0 199.3 571.7 C200.7 571.4 202.9 572.8 204.4 572.3 C205.9 571.8 210.2 567.9 211.9 567.8 C213.6 567.7 217.0 571.2 218.6 571.2 C220.2 571.2 223.6 567.5 225.3 567.8 C227.0 568.1 230.9 573.3 232.8 573.4 C234.7 573.5 239.4 569.7 241.2 569 C243.0 568.3 246.3 568.1 247.9 567.8 C249.5 567.5 253.0 566.0 254.6 566.1 C256.2 566.2 259.9 569.1 261.3 569 C262.7 568.9 265.2 566.2 266.4 565.3 C267.6 564.4 270.0 561.5 271.4 561.6 C272.8 561.7 277.1 565.3 278.1 566.1 C279.1 566.9 279.2 567.6 280 568.4 C280.8 569.2 283.4 572.4 284.9 572.8 C286.4 573.2 290.2 571.7 292.3 572.1 C294.4 572.5 300.1 574.8 302.2 575.8 C304.3 576.8 307.8 580.4 309.6 580.2 C311.4 580.0 315.1 573.3 317 573.8 C318.9 574.3 324.0 583.1 325.6 584.4 C327.2 585.7 329.0 585.0 330.5 584.4 C332.0 583.8 336.1 579.8 337.9 579.5 C339.7 579.2 343.4 581.9 345.3 582 C347.2 582.1 351.8 580.1 353.9 580.7 C356.0 581.3 360.9 586.7 362.5 586.9 C364.1 587.1 366.0 582.6 367.5 582 C369.0 581.4 373.3 582.7 374.9 582 C376.5 581.3 379.4 577.7 381 575.8 C382.6 573.9 386.8 567.5 388.4 565.9 C390.0 564.3 393.3 563.5 394.6 562.2 C395.9 560.9 398.5 557.0 399.5 554.9 C400.5 552.8 401.8 548.7 402.7 544.3 C403.6 539.9 406.4 524.6 407.3 518.3 C408.2 512.0 409.6 498.5 410.2 492.2 C410.8 485.9 412.1 471.2 412.5 466.1 C412.9 461.0 413.3 454.4 413.7 450 C414.1 445.6 415.3 434.4 415.8 429.1 C416.3 423.8 417.2 411.5 417.6 405.9 C418.0 400.3 418.6 388.4 419 382.8 C419.4 377.2 420.3 365.2 420.7 359.6 C421.1 354.0 421.8 342.0 422.4 336.4 C423.0 330.8 424.7 316.7 425.3 313.2 C425.9 309.7 426.8 307.5 427.3 307.5 C427.8 307.5 428.9 309.7 429.5 313.2 C430.1 316.7 431.7 330.8 432.1 336.4 C432.5 342.0 432.9 354.0 433.2 359.6 C433.5 365.2 434.7 377.2 435 382.8 C435.3 388.4 435.8 400.3 436.1 405.9 C436.4 411.5 437.5 423.8 437.9 429.1 C438.3 434.4 438.8 445.6 439.2 450 C439.6 454.4 440.4 461.0 441 466.1 C441.6 471.2 443.3 485.9 444.2 492.2 C445.1 498.5 447.2 512.0 448.1 518.3 C449.0 524.6 451.2 539.6 452 544.3 C452.8 549.0 454.0 554.8 454.8 557.4 C455.6 560.0 457.1 563.7 458.6 565.9 C460.1 568.1 465.3 573.6 467.2 575.8 C469.1 578.0 473.0 582.9 474.6 584.4 C476.2 585.9 479.3 586.9 480.8 588.1 C482.3 589.3 485.4 593.6 487 594.3 C488.6 595.0 492.7 594.9 494.3 594.3 C495.9 593.7 498.9 588.7 500.5 589.3 C502.1 589.9 506.0 598.6 507.9 599.2 C509.8 599.8 514.6 594.7 516.5 594.3 C518.4 593.9 522.1 594.6 523.9 595.5 C525.7 596.4 529.5 600.8 531.3 601.7 C533.1 602.6 537.7 602.7 538.7 602.9 C539.7 603.1 539.0 603.2 540 603.2 C541.0 603.2 544.9 602.9 546.7 603.2 C548.5 603.5 553.1 605.0 555.1 605.4 C557.1 605.8 561.3 606.4 563.5 606.6 C565.7 606.8 571.4 606.9 573.5 607.4 C575.6 607.9 579.1 610.7 581.1 611.1 C583.1 611.5 588.6 611.0 590.3 610.8 C592.0 610.6 593.9 609.2 595.3 609.4 C596.7 609.6 600.7 611.8 602 612.1 C603.3 612.4 605.0 612.6 606.2 611.6 C607.4 610.6 610.6 605.7 612.1 604.1 C613.6 602.5 617.2 599.8 618.8 598.2 C620.4 596.6 624.1 593.2 625.5 590.7 C626.9 588.2 629.1 580.1 630.5 577.3 C631.9 574.5 636.0 570.0 637.2 567.2 C638.4 564.4 640.0 557.4 640.6 553.8 C641.2 550.2 642.1 541.2 642.6 537 C643.1 532.8 644.2 522.8 644.7 518.6 C645.2 514.4 645.9 505.1 646.4 501.8 C646.9 498.5 648.1 492.4 648.6 490.9 C649.1 489.4 650.1 489.3 650.6 489.3 C651.1 489.3 652.5 489.4 653.1 490.9 C653.7 492.4 654.8 498.5 655.3 501.8 C655.8 505.1 656.8 514.4 657.3 518.6 C657.8 522.8 658.7 532.6 659.3 537 C659.9 541.4 661.2 551.3 662 555.5 C662.8 559.7 664.7 568.4 665.7 572.2 C666.7 576.0 669.5 584.0 670.7 587.3 C671.9 590.6 674.4 597.7 675.8 599.9 C677.2 602.1 681.1 604.1 682.5 605.4 C683.9 606.7 686.3 609.9 687.5 610.8 C688.7 611.7 691.1 613.3 692.5 613.3 C693.9 613.3 697.6 611.0 699.2 611.1 C700.8 611.2 704.3 614.0 705.9 614.5 C707.5 615.0 711.1 614.6 712.6 615 C714.1 615.4 717.1 617.6 718.5 617.5 C719.9 617.4 722.9 614.5 724.4 614.5 C725.9 614.5 729.5 616.9 731.1 617.5 C732.7 618.1 736.2 619.3 737.8 619.2 C739.4 619.1 742.9 616.5 744.5 616.6 C746.1 616.7 749.6 619.7 751.2 620 C752.8 620.3 756.4 620.1 757.9 619.2 C759.4 618.3 762.4 613.4 763.7 612.5 C765.0 611.6 767.5 611.3 768.8 611.6 C770.1 611.9 773.1 614.5 774.6 615 C776.1 615.5 779.9 615.8 781.3 616.1 C782.7 616.4 785.2 617.6 786.4 617.2 C787.6 616.8 790.0 614.0 791.4 612.5 C792.8 611.0 797.1 606.1 798.1 604.9 C799.1 603.7 799.2 603.9 800 602.4 C800.8 600.9 803.9 594.9 805 592.3 C806.1 589.7 808.3 584.0 809.2 580.6 C810.1 577.2 811.8 568.3 812.6 563.9 C813.4 559.5 815.1 548.5 815.9 543.7 C816.7 538.9 818.6 527.4 819.3 523.6 C820.0 519.8 821.2 514.0 821.8 511.9 C822.4 509.8 823.7 506.8 824.3 506 C824.9 505.2 826.0 504.8 826.5 504.9 C827.0 505.0 828.3 505.5 828.8 506.5 C829.3 507.5 830.4 510.9 831 513.6 C831.6 516.3 832.8 524.5 833.5 528.7 C834.2 532.9 836.1 544.4 836.9 548.8 C837.7 553.2 839.4 561.7 840.2 565.5 C841.0 569.3 842.8 577.6 843.6 580.6 C844.4 583.6 845.9 588.5 846.9 590.7 C847.9 592.9 850.7 597.1 852 599.1 C853.3 601.1 856.2 605.8 857.8 607.4 C859.4 609.0 863.7 611.2 865.4 612.5 C867.1 613.8 870.6 617.5 872.1 618.3 C873.6 619.1 876.6 618.8 877.9 619.2 C879.2 619.6 881.7 621.8 883 621.7 C884.3 621.6 887.3 619.0 888.8 618.3 C890.3 617.6 894.0 616.6 895.5 616.1 C897.0 615.6 900.0 615.5 901.4 614.1 C902.8 612.7 905.6 606.1 907.3 604.1 C909.0 602.1 914.1 599.2 915.6 597.4 C917.1 595.6 918.9 591.4 919.8 589 C920.7 586.6 922.5 580.7 923.2 577.3 C923.9 573.9 925.1 564.7 925.7 560.5 C926.3 556.3 927.6 546.1 928.2 542.1 C928.8 538.1 930.0 529.9 930.7 527 C931.4 524.1 933.2 519.4 934.1 517.8 C935.0 516.2 937.3 514.3 938.3 513.9 C939.3 513.5 941.5 513.4 942.5 514.4 C943.5 515.4 945.6 520.3 946.6 522 C947.6 523.7 949.9 526.5 950.8 528.7 C951.7 530.9 953.4 537.4 954.2 540.4 C955.0 543.4 956.7 550.4 957.5 553.8 C958.3 557.2 960.1 565.5 960.9 568.9 C961.7 572.3 963.3 579.5 964.2 582.3 C965.1 585.1 967.4 590.1 968.4 592.3 C969.4 594.5 971.6 598.8 972.6 600.7 C973.6 602.6 975.5 607.0 976.8 608.3 C978.1 609.6 982.0 610.6 983.5 611.6 C985.0 612.6 987.9 615.6 989.4 616.6 C990.9 617.6 994.5 619.5 996.1 620 C997.7 620.5 1001.4 620.6 1002.8 620.5 C1004.2 620.4 1006.6 619.5 1007.8 619.5 C1009.0 619.5 1011.6 620.4 1012.8 620.3 C1014.0 620.2 1016.7 619.0 1017.9 618.8 C1019.1 618.6 1021.7 618.2 1022.9 618.8 C1024.1 619.4 1026.5 622.7 1027.9 623.4 C1029.3 624.1 1033.2 624.6 1034.6 625 C1036.0 625.4 1038.6 627.3 1039.7 626.7 C1040.8 626.1 1042.9 621.0 1043.9 620 C1044.9 619.0 1046.9 618.4 1048 618.3 C1049.1 618.2 1051.9 618.9 1053.1 619.2 C1054.3 619.5 1057.3 620.7 1058.1 620.8 C1058.9 620.9 1059.4 620.4 1060 620 C1060.6 619.6 1062.4 619.0 1063.4 617.5 C1064.4 616.0 1067.2 610.0 1068.4 607.4 C1069.6 604.8 1072.3 598.7 1073.4 595.7 C1074.5 592.7 1076.7 585.5 1077.6 582.3 C1078.5 579.1 1080.1 571.4 1080.9 568.9 C1081.7 566.4 1083.6 562.5 1084.3 561.3 C1085.0 560.1 1086.0 559.2 1086.8 559.3 C1087.6 559.4 1090.1 560.7 1091 562.2 C1091.9 563.7 1093.5 569.6 1094.4 572.2 C1095.3 574.8 1097.6 581.0 1098.5 584 C1099.4 587.0 1101.1 594.4 1101.9 597.4 C1102.7 600.4 1104.3 607.3 1105.3 609.1 C1106.3 610.9 1108.9 611.3 1110.3 612.5 C1111.7 613.7 1115.4 617.9 1117 619.2 C1118.6 620.5 1122.1 622.7 1123.7 623.4 C1125.3 624.1 1128.8 624.5 1130.4 625 C1132.0 625.5 1135.5 627.6 1137.1 627.5 C1138.7 627.4 1142.2 624.8 1143.8 624.5 C1145.4 624.2 1148.9 624.7 1150.5 625 C1152.1 625.3 1155.9 626.7 1157.2 626.7 C1158.5 626.7 1160.4 625.6 1161.4 625 C1162.4 624.4 1164.5 621.8 1165.6 621.7 C1166.7 621.6 1169.2 623.6 1170.6 623.9 C1172.0 624.2 1175.9 624.8 1177.3 624.2 C1178.7 623.6 1181.1 620.4 1182.3 619.2 C1183.5 618.0 1186.2 615.7 1187.4 614.1 C1188.6 612.5 1191.3 607.6 1192.4 605.8 C1193.5 604.0 1195.6 600.2 1196.6 599.1 C1197.6 598.0 1199.5 596.4 1200.8 596.5 C1202.1 596.6 1206.1 599.6 1207.5 599.9 C1208.9 600.2 1211.3 598.8 1212.5 598.7 C1213.7 598.6 1216.3 598.2 1217.5 599.1 C1218.7 600.0 1221.4 604.5 1222.6 605.8 C1223.8 607.1 1226.2 609.2 1227.6 609.9 C1229.0 610.6 1232.9 610.8 1234.3 611.6 C1235.7 612.4 1238.1 615.1 1239.3 616.6 C1240.5 618.1 1243.2 623.1 1244.4 624.2 C1245.6 625.3 1248.2 626.0 1249.4 625.9 C1250.6 625.8 1253.0 623.4 1254.4 623.4 C1255.8 623.4 1259.5 625.5 1261.1 625.9 C1262.7 626.3 1266.2 626.9 1267.8 626.7 C1269.4 626.5 1272.7 624.7 1274.5 623.9 C1276.3 623.1 1281.3 621.0 1282.9 620 C1284.5 619.0 1286.8 617.7 1287.9 615.8 C1289.0 613.9 1291.1 606.5 1292.1 604.1 C1293.1 601.7 1295.0 597.2 1296.3 595.7 C1297.6 594.2 1301.4 592.6 1303 592 C1304.6 591.4 1308.2 590.6 1309.7 590.3 C1311.2 590.0 1314.4 589.1 1315.6 589.8 C1316.8 590.5 1319.3 595.6 1319.8 596.5 C1320.3 597.4 1319.4 596.2 1320 597.4 C1320.6 598.6 1323.6 604.7 1325 606.6 C1326.4 608.5 1330.1 611.6 1331.7 613.3 C1333.3 615.0 1336.8 619.7 1338.4 620.8 C1340.0 621.9 1343.5 621.4 1345.1 622.2 C1346.7 623.0 1350.0 626.8 1351.8 627.5 C1353.6 628.2 1358.2 627.5 1360.2 627.9 C1362.2 628.3 1366.4 630.2 1368.6 630.6 C1370.8 631.0 1376.3 631.2 1378.7 631.2 C1381.1 631.2 1386.9 631.2 1388.7 630.9 C1390.5 630.6 1392.3 628.8 1393.7 628.4 C1395.1 628.0 1398.8 628.2 1400.4 627.9 C1402.0 627.6 1405.6 626.6 1407.2 625.9 C1408.8 625.2 1412.3 622.3 1413.9 621.7 C1415.5 621.1 1419.2 621.3 1420.6 620.8 C1422.0 620.3 1424.4 619.1 1425.6 617.5 C1426.8 615.9 1429.4 609.1 1430.6 607.4 C1431.8 605.7 1434.0 603.7 1435.6 603.2 C1437.2 602.7 1442.3 602.5 1444 602.9 C1445.7 603.3 1448.3 605.3 1449.9 606.6 C1451.5 607.9 1455.9 612.2 1457.4 614.1 C1458.9 616.0 1460.9 621.0 1462.5 622.2 C1464.1 623.4 1469.0 623.6 1470.8 624.2 C1472.6 624.8 1475.7 626.8 1477.5 627.2 C1479.3 627.6 1484.1 627.6 1485.9 627.9 C1487.7 628.2 1490.8 629.7 1492.6 630.1 C1494.4 630.5 1498.8 630.6 1501 630.9 C1503.2 631.2 1508.5 631.8 1511.1 632.2 C1513.7 632.6 1520.4 634.6 1522.8 634.6 C1525.2 634.6 1529.4 632.9 1531.2 632.6 C1533.0 632.3 1536.1 631.7 1537.9 631.7 C1539.7 631.7 1544.3 633.0 1546.3 632.9 C1548.3 632.8 1552.6 631.2 1554.6 630.9 C1556.6 630.6 1561.2 630.3 1563 630.1 C1564.8 629.9 1568.9 629.3 1569.7 629.2 L1572.1 637.6 L1572.1 617.5"/>
<path class="curve" stroke="#008080" d="M31.6 349.4 L31.6 369.4 C32.2 368.4 35.3 361.6 36.8 361.2 C38.3 360.8 42.5 365.4 44.3 365.7 C46.1 366.0 49.7 363.8 51.8 363.7 C53.9 363.6 59.9 365.0 61.9 365 C63.9 365.0 67.0 363.9 68.6 364 C70.2 364.1 72.9 366.2 75.3 365.7 C77.7 365.2 85.9 359.4 88.7 359.7 C91.5 360.0 96.4 367.3 98.8 368.2 C101.2 369.1 106.6 368.0 108.8 367.4 C111.0 366.8 114.9 364.5 117.2 362.8 C119.5 361.1 125.7 353.5 128.1 353 C130.5 352.5 135.4 358.3 137.3 359 C139.2 359.7 142.4 358.6 144 359 C145.6 359.4 148.9 362.5 150.7 362.3 C152.5 362.1 157.3 357.8 159.1 357 C160.9 356.2 164.0 356.6 165.8 355.3 C167.6 354.0 172.2 346.9 174.2 345.9 C176.2 344.9 180.8 347.1 182.6 347.1 C184.4 347.1 187.6 345.6 189.3 345.9 C191.0 346.2 194.6 349.9 196.8 349.9 C199.0 349.9 205.5 345.6 207.7 345.6 C209.9 345.6 213.4 350.5 215.3 349.9 C217.2 349.3 221.6 341.1 223.6 340.6 C225.6 340.1 229.7 346.2 232 345.6 C234.3 345.0 240.6 336.2 242.9 335.5 C245.2 334.8 249.1 339.3 251.3 339.9 C253.5 340.5 259.0 339.4 261.3 340.2 C263.6 341.0 268.2 346.3 270.6 346.8 C273.0 347.3 279.5 345.1 281.5 344.7 C283.5 344.3 285.5 343.5 287.4 343.3 C289.3 343.1 295.3 342.5 297.2 342.8 C299.1 343.1 302.1 344.6 303.4 345.8 C304.7 347.0 306.7 352.5 308.3 352.7 C309.9 352.9 314.9 348.6 317 347.8 C319.1 347.0 323.4 345.5 325.6 345.8 C327.8 346.1 333.2 350.0 335.4 350.2 C337.6 350.4 342.2 348.2 344.1 347.8 C346.0 347.4 349.7 346.8 351.4 347 C353.1 347.2 356.7 349.6 358.3 349.5 C359.9 349.4 363.5 346.9 365 346.3 C366.5 345.7 369.7 345.4 371.2 344.6 C372.7 343.8 375.5 340.1 377.3 339.6 C379.1 339.1 384.1 340.8 385.9 340.1 C387.7 339.4 390.6 335.8 392.1 333.5 C393.6 331.2 397.4 323.1 398.3 321.2 C399.2 319.3 399.3 319.4 399.9 317.4 C400.5 315.4 402.0 309.0 403 304.3 C404.0 299.6 407.1 284.6 408.1 278.3 C409.1 272.0 410.5 258.5 411.2 252.2 C411.9 245.9 413.2 232.5 413.8 226.1 C414.4 219.7 415.6 205.1 416.1 199.1 C416.6 193.1 417.7 181.5 418.1 175.9 C418.5 170.3 419.0 158.4 419.5 152.8 C420.0 147.2 421.4 135.2 421.9 129.6 C422.4 124.0 423.3 112.0 423.9 106.4 C424.5 100.8 426.3 86.9 427.1 83.2 C427.9 79.5 429.6 75.8 430.4 75.8 C431.2 75.8 433.1 79.5 433.8 83.2 C434.5 86.9 435.9 100.8 436.5 106.4 C437.1 112.0 438.3 124.0 438.8 129.6 C439.3 135.2 440.1 147.2 440.5 152.8 C440.9 158.4 441.8 170.3 442.3 175.9 C442.8 181.5 444.0 193.1 444.6 199.1 C445.2 205.1 446.4 219.7 447.2 226.1 C448.0 232.5 450.1 245.9 451.1 252.2 C452.1 258.5 454.0 272.0 455.3 278.3 C456.6 284.6 460.9 299.6 462.3 304.3 C463.7 309.0 466.1 315.4 466.8 317.4 C467.5 319.4 467.9 319.3 468.5 321.2 C469.1 323.1 471.2 331.4 472.2 333.5 C473.2 335.6 475.9 337.8 477.1 338.4 C478.3 339.0 480.5 338.0 482 338.9 C483.5 339.8 487.5 344.5 489.4 345.8 C491.3 347.1 496.1 349.6 498 349.5 C499.9 349.4 503.3 345.7 505.4 345.3 C507.5 344.9 513.2 346.2 515.3 345.8 C517.4 345.4 520.8 342.8 522.7 342.1 C524.6 341.4 529.4 339.6 531.3 339.6 C533.2 339.6 537.7 341.6 538.7 342.1 C539.7 342.6 538.8 342.9 540 344 C541.2 345.1 546.5 349.8 548.4 351.5 C550.3 353.2 553.9 357.5 555.9 358.2 C557.9 358.9 563.1 357.1 565.1 357.7 C567.1 358.3 570.9 362.9 572.7 363.2 C574.5 363.5 578.3 360.1 580.2 360.4 C582.1 360.7 586.8 365.1 588.6 365.8 C590.4 366.5 593.8 366.9 595.3 366.1 C596.8 365.3 599.4 359.9 601.2 359.1 C603.0 358.3 608.5 359.7 610.4 359.1 C612.3 358.5 615.3 355.4 617.1 354 C618.9 352.6 623.8 349.5 625.5 347.3 C627.2 345.1 630.0 338.6 631.3 335.6 C632.6 332.6 635.1 325.6 636.4 322.2 C637.7 318.8 641.0 311.1 642.2 307.1 C643.4 303.1 645.5 293.3 646.4 288.7 C647.3 284.1 649.1 271.7 649.8 268.5 C650.5 265.3 651.7 262.9 652.3 261.8 C652.9 260.7 654.0 259.3 654.5 259.3 C655.0 259.3 656.2 260.7 656.8 261.8 C657.4 262.9 658.6 265.5 659.3 268.5 C660.0 271.5 661.5 282.2 662.3 287 C663.1 291.8 664.7 304.2 665.7 308.8 C666.7 313.4 669.6 321.7 670.7 325.5 C671.8 329.3 673.9 337.9 674.9 340.6 C675.9 343.3 677.8 346.8 679.1 348.2 C680.4 349.6 684.0 350.8 685.8 352.3 C687.6 353.8 692.4 358.9 694.2 360.7 C696.0 362.5 699.3 366.4 700.9 367.4 C702.5 368.4 706.0 369.2 707.6 369.4 C709.2 369.6 712.8 369.1 714.3 369.4 C715.8 369.7 718.7 372.1 720.2 372.1 C721.7 372.1 725.4 370.1 726.9 369.1 C728.4 368.1 731.4 364.9 732.7 364.1 C734.0 363.3 736.5 362.0 737.8 362.4 C739.1 362.8 741.4 367.2 743.6 367.8 C745.8 368.4 753.8 367.6 756.2 367.8 C758.6 368.0 761.8 370.1 763.7 369.4 C765.6 368.7 770.6 362.8 772.1 361.6 C773.6 360.4 773.8 359.7 776.3 359.4 C778.8 359.1 790.5 359.6 793.1 359.1 C795.7 358.6 797.3 356.1 798.1 354.9 C798.9 353.7 799.2 350.9 800 349 C800.8 347.1 803.8 341.3 805 338.9 C806.2 336.5 809.1 331.3 810.1 328.9 C811.1 326.5 812.7 322.0 813.4 318.8 C814.1 315.6 815.3 305.9 815.9 302.1 C816.5 298.3 817.7 290.4 818.4 287 C819.1 283.6 821.0 276.4 821.8 273.6 C822.6 270.8 824.2 265.1 825.1 263.5 C826.0 261.9 828.3 260.5 829.3 260.5 C830.3 260.5 832.6 261.7 833.5 263.5 C834.4 265.3 836.1 272.1 836.9 275.3 C837.7 278.5 839.4 286.7 840.2 290.3 C841.0 293.9 842.8 302.0 843.6 305.4 C844.4 308.8 846.1 316.0 846.9 318.8 C847.7 321.6 849.3 326.7 850.3 328.9 C851.3 331.1 854.0 334.9 855.3 337.3 C856.6 339.7 859.8 346.5 861.2 349 C862.6 351.5 865.5 356.6 867 358.2 C868.5 359.8 872.1 361.7 873.7 362.4 C875.3 363.1 878.8 363.3 880.4 363.7 C882.0 364.1 885.6 365.6 887.2 365.8 C888.8 366.0 892.4 365.4 893.9 365.4 C895.4 365.4 898.5 366.3 899.7 365.8 C900.9 365.3 902.6 362.5 903.9 361.6 C905.2 360.7 909.0 359.3 910.6 358.2 C912.2 357.1 915.9 354.2 917.3 352.3 C918.7 350.4 921.3 345.1 922.3 342.3 C923.3 339.5 924.9 332.1 925.7 328.9 C926.5 325.7 928.3 319.1 929.1 315.5 C929.9 311.9 931.7 302.5 932.4 298.7 C933.1 294.9 934.3 287.2 934.9 283.6 C935.5 280.0 936.8 271.1 937.4 268.5 C938.0 265.9 939.3 262.8 939.9 261.8 C940.5 260.8 942.1 259.8 942.8 259.8 C943.5 259.8 945.0 260.6 945.8 261.8 C946.6 263.0 948.2 268.2 949.2 270.2 C950.2 272.2 953.1 276.6 954.2 278.6 C955.3 280.6 957.5 284.6 958.4 287 C959.3 289.4 960.9 295.5 961.7 298.7 C962.5 301.9 964.3 310.4 965.1 313.8 C965.9 317.2 967.6 324.6 968.4 327.2 C969.2 329.8 970.8 333.7 971.8 335.6 C972.8 337.5 975.3 341.6 976.8 343.1 C978.3 344.6 982.9 346.7 984.4 348.2 C985.9 349.7 988.0 354.2 989.4 355.7 C990.8 357.2 994.3 359.2 996.1 360.4 C997.9 361.6 1002.5 364.5 1004.5 365.4 C1006.5 366.3 1010.9 367.3 1012.8 368.3 C1014.7 369.3 1018.9 373.4 1020.4 374.1 C1021.9 374.8 1024.2 374.2 1025.4 373.8 C1026.6 373.4 1029.1 371.1 1030.4 371.1 C1031.7 371.1 1034.8 373.7 1036.3 374.1 C1037.8 374.5 1041.4 374.3 1043 374.5 C1044.6 374.7 1048.1 376.4 1049.7 375.8 C1051.3 375.2 1055.2 370.7 1056.4 369.9 C1057.6 369.1 1059.0 369.4 1060 369.1 C1061.0 368.8 1064.0 368.2 1065 367.4 C1066.0 366.6 1067.5 365.0 1068.4 362.4 C1069.3 359.8 1071.5 349.0 1072.6 345.6 C1073.7 342.2 1076.4 336.9 1077.6 333.9 C1078.8 330.9 1081.5 322.8 1082.6 320.5 C1083.7 318.2 1085.6 314.5 1086.8 314.6 C1088.0 314.7 1091.3 320.4 1092.7 321.3 C1094.1 322.2 1097.2 321.5 1098.5 322.2 C1099.8 322.9 1102.5 325.2 1103.6 327.2 C1104.7 329.2 1106.8 336.3 1107.8 338.9 C1108.8 341.5 1110.9 347.2 1112 349 C1113.1 350.8 1115.6 352.9 1117 354 C1118.4 355.1 1122.1 356.9 1123.7 358.2 C1125.3 359.5 1128.8 363.7 1130.4 364.9 C1132.0 366.1 1135.5 366.5 1137.1 367.8 C1138.7 369.1 1142.0 374.8 1143.8 375.8 C1145.6 376.8 1150.6 375.6 1152.2 376.1 C1153.8 376.6 1155.8 379.3 1157.2 380 C1158.6 380.7 1161.9 381.8 1163.9 381.7 C1165.9 381.6 1172.2 380.3 1174 379.2 C1175.8 378.1 1177.6 373.9 1179 372.5 C1180.4 371.1 1184.2 369.2 1185.7 367.4 C1187.2 365.6 1189.8 358.7 1191.6 357.4 C1193.4 356.1 1198.9 357.3 1200.8 356.5 C1202.7 355.7 1205.9 351.0 1207.5 350.7 C1209.1 350.4 1212.6 353.5 1214.2 354 C1215.8 354.5 1219.3 354.1 1220.9 354.9 C1222.5 355.7 1226.2 359.4 1227.6 360.7 C1229.0 362.0 1231.4 364.8 1232.6 365.8 C1233.8 366.8 1236.3 367.6 1237.7 368.8 C1239.1 370.0 1242.4 375.1 1244.4 375.8 C1246.4 376.5 1252.2 374.7 1254.4 375 C1256.6 375.3 1260.8 377.9 1262.8 378.3 C1264.8 378.7 1269.4 379.3 1271.2 378.7 C1273.0 378.1 1275.9 374.0 1277.9 373.3 C1279.9 372.6 1285.9 373.6 1287.9 372.5 C1289.9 371.4 1292.8 365.8 1294.6 364.1 C1296.4 362.4 1301.2 359.7 1303 358.2 C1304.8 356.7 1308.3 352.5 1309.7 351.5 C1311.1 350.5 1313.5 349.8 1314.7 349.8 C1315.9 349.8 1319.2 351.1 1319.8 351.5 C1320.4 351.9 1319.4 352.2 1320 353.2 C1320.6 354.2 1323.6 358.3 1325 359.9 C1326.4 361.5 1329.3 365.5 1331.7 366.6 C1334.1 367.7 1342.5 368.3 1345.1 369.4 C1347.7 370.5 1351.5 374.3 1353.5 375.8 C1355.5 377.3 1359.7 381.0 1361.9 381.7 C1364.1 382.4 1369.8 382.2 1372 381.7 C1374.2 381.2 1378.7 377.5 1380.3 377.2 C1381.9 376.9 1384.0 378.4 1385.4 379.2 C1386.8 380.0 1390.7 383.4 1392.1 383.9 C1393.5 384.4 1395.7 384.0 1397.1 383.4 C1398.5 382.8 1402.2 379.9 1403.8 379.2 C1405.4 378.5 1408.7 378.4 1410.5 377.5 C1412.3 376.6 1416.9 373.4 1418.9 371.6 C1420.9 369.8 1425.3 364.2 1427.3 362.4 C1429.3 360.6 1433.6 357.5 1435.6 356.5 C1437.6 355.5 1442.2 353.9 1444 354 C1445.8 354.1 1449.3 356.1 1450.7 357.4 C1452.1 358.7 1454.5 363.4 1455.8 364.9 C1457.1 366.4 1459.8 369.2 1461.6 369.9 C1463.4 370.6 1468.9 370.8 1470.8 370.8 C1472.7 370.8 1475.7 369.1 1477.5 369.9 C1479.3 370.7 1483.9 376.8 1485.9 377.5 C1487.9 378.2 1492.3 376.2 1494.3 375.8 C1496.3 375.4 1500.6 374.7 1502.7 374.1 C1504.8 373.5 1509.9 370.8 1511.9 371.1 C1513.9 371.4 1517.7 375.9 1519.4 376.6 C1521.1 377.3 1524.4 377.4 1526.1 377.2 C1527.8 377.0 1532.1 374.9 1533.7 375 C1535.3 375.1 1538.2 377.3 1539.6 377.8 C1541.0 378.3 1543.8 379.3 1545.4 378.8 C1547.0 378.3 1551.3 374.0 1553 373.8 C1554.7 373.6 1558.2 376.8 1559.7 377.5 C1561.2 378.2 1564.7 379.0 1565.7 379.7 C1566.7 380.4 1568.1 383.2 1568.4 383.7 L1572.2 396.1"/>
</g>
<rect x="1175" y="268.2" width="122" height="9.6" fill="#008080" shape-rendering="crispEdges"/>
<text class="leg" x="1310.6" y="291.3" textLength="189.7" lengthAdjust="spacingAndGlyphs">Gel-TiO</text>
<text class="sub" x="1500.6" y="312">2</text>
<rect x="1028" y="494.3" width="123" height="9.6" fill="#0000ff" shape-rendering="crispEdges"/>
<text class="leg" x="1165.2" y="516.9" textLength="334" lengthAdjust="spacingAndGlyphs">THPP-Zn-TiO</text>
<text class="sub" x="1499.3" y="538">2</text>
<rect x="1038" y="756" width="122" height="9.6" fill="#ff0000" shape-rendering="crispEdges"/>
<text class="leg" x="1175.2" y="779" textLength="331.9" lengthAdjust="spacingAndGlyphs">THPP-Pd-TiO</text>
<text class="sub" x="1507.3" y="800">2</text>
<rect x="1125" y="996.7" width="122" height="9.6" fill="#000000" shape-rendering="crispEdges"/>
<text class="leg" x="1261" y="1019.8" textLength="254.2" lengthAdjust="spacingAndGlyphs">THPP-TiO</text>
<text class="sub" x="1513.9" y="1040.9">2</text>
<text class="tick" transform="translate(332.3 1250.5) scale(0.955 1)" x="0" y="0">20</text>
<text class="tick" transform="translate(686.4 1250.5) scale(0.955 1)" x="0" y="0">40</text>
<text class="tick" transform="translate(1040.6 1250.5) scale(0.955 1)" x="0" y="0">60</text>
<text class="tick" transform="translate(1394.2 1250.5) scale(0.955 1)" x="0" y="0">80</text>
<text class="title" x="801.4" y="1339.7" textLength="368" lengthAdjust="spacingAndGlyphs">2theta (degree)</text>
</svg></body></html>
